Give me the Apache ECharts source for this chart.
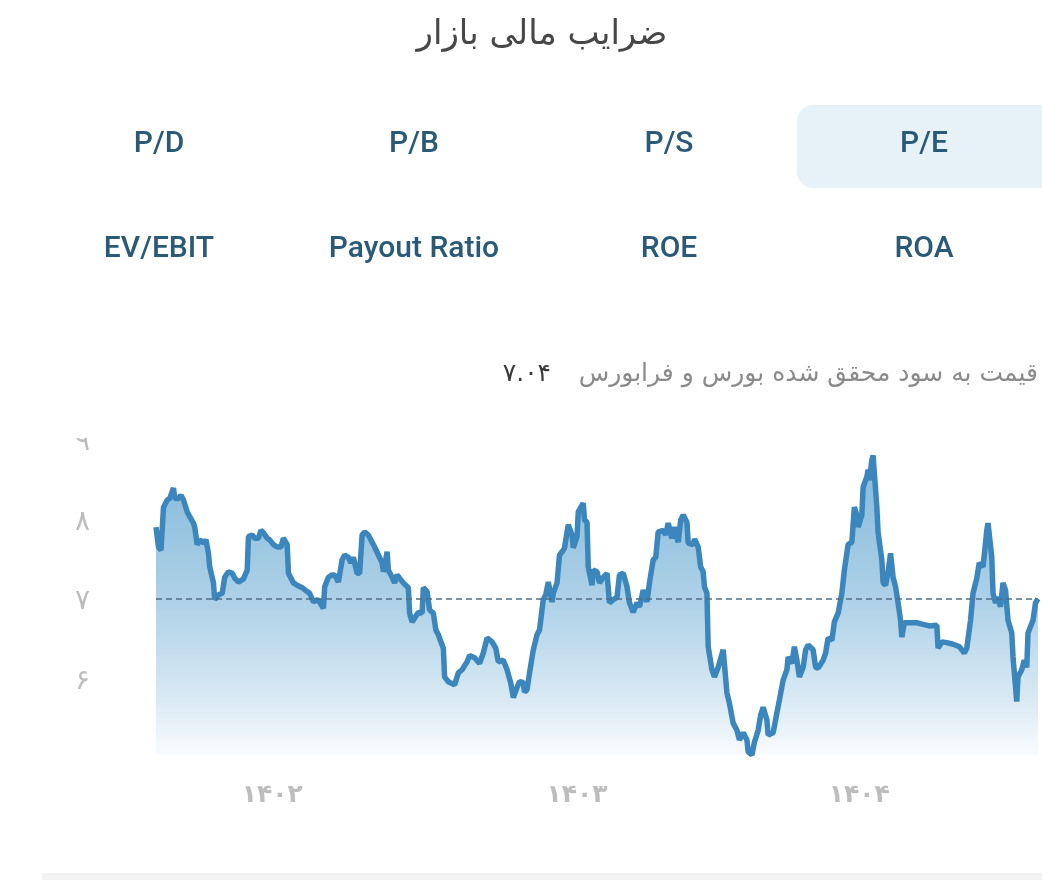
<!DOCTYPE html>
<html>
<head>
<meta charset="utf-8">
<script src="https://cdn.jsdelivr.net/npm/echarts@6/dist/echarts.min.js"></script>
<style>
html,body{margin:0;padding:0;background:#fff;}
#chart{width:1042px;height:887px;}
</style>
</head>
<body>
<div id="chart"></div>
<script>
// ---- data ----
var days = [0,2,4,6,9,11,14,15,18,20,22,25,27,30,31,33,35,38,40,42,43,46,47,50,53,55,58,61,63,66,70,73,74,77,79,82,84,86,89,91,94,97,100,102,105,106,110,113,117,121,123,126,129,131,134,135,138,141,143,146,149,151,154,156,158,161,163,165,167,170,173,175,178,181,182,183,185,186,189,191,193,195,198,199,202,203,205,207,210,213,214,217,219,222,224,226,230,231,234,235,239,242,245,249,251,255,259,262,265,269,272,274,278,281,284,286,289,291,294,295,297,299,302,305,307,310,312,314,317,318,321,323,326,327,330,333,334,337,338,342,343,345,346,349,350,353,355,358,361,363,366,369,371,374,377,379,382,385,387,390,393,395,398,400,402,406,408,410,413,415,418,420,422,425,426,430,431,434,436,438,439,441,442,445,447,450,454,457,459,462,465,467,470,473,474,477,479,482,484,486,489,490,494,497,499,502,505,506,509,511,513,515,518,520,522,526,528,530,534,536,538,541,543,546,549,551,554,557,559,561,562,565,566,569,570,571,573,574,575,577,578,581,582,584,586,588,590,592,594,596,597,599,603,609,614,619,625,626,629,633,638,643,647,649,652,654,657,659,662,663,665,666,669,670,672,674,676,678,680,682,685,686,689,690,693,695,697,698,702,704,706];
var peValues = [7.94,7.69,7.65,8.19,8.28,8.30,8.43,8.30,8.30,8.34,8.28,8.13,8.07,7.99,7.94,7.72,7.78,7.74,7.78,7.61,7.44,7.24,7.03,7.09,7.11,7.31,7.38,7.36,7.30,7.25,7.29,7.40,7.82,7.84,7.80,7.80,7.90,7.87,7.80,7.78,7.72,7.69,7.69,7.80,7.72,7.36,7.24,7.21,7.18,7.13,7.11,7.00,7.03,7.00,6.92,7.19,7.31,7.34,7.34,7.25,7.53,7.59,7.56,7.49,7.56,7.36,7.36,7.84,7.88,7.84,7.75,7.69,7.59,7.49,7.38,7.44,7.63,7.40,7.31,7.24,7.34,7.30,7.24,7.25,7.18,6.86,6.75,6.80,6.87,6.86,7.18,7.13,6.90,6.86,6.65,6.59,6.42,6.06,6.00,6.00,5.96,6.11,6.15,6.25,6.33,6.30,6.23,6.36,6.55,6.50,6.42,6.25,6.27,6.15,5.98,5.80,5.93,6.00,5.99,5.87,5.90,6.11,6.40,6.59,6.65,7.03,7.09,7.25,7.00,7.11,7.24,7.59,7.65,7.68,7.97,7.84,7.68,7.82,8.13,8.24,8.03,8.00,7.44,7.21,7.40,7.38,7.24,7.31,7.36,6.99,7.03,7.06,7.34,7.36,7.19,6.99,6.87,6.99,6.94,7.15,7.00,7.24,7.53,7.56,7.88,7.90,7.84,7.99,7.80,7.94,7.75,8.03,8.09,8.00,7.74,7.72,7.79,7.69,7.44,7.38,7.19,7.11,6.44,6.15,6.06,6.18,6.40,5.86,5.73,5.48,5.39,5.27,5.36,5.27,5.12,5.08,5.24,5.39,5.58,5.68,5.52,5.33,5.36,5.61,5.77,6.02,6.15,6.31,6.23,6.44,6.27,6.06,6.18,6.40,6.46,6.40,6.18,6.17,6.27,6.36,6.55,6.52,6.75,6.86,7.11,7.40,7.72,7.75,8.19,8.09,7.94,8.09,8.44,8.57,8.66,8.53,8.78,8.84,8.62,8.19,7.87,7.53,7.24,7.21,7.38,7.61,7.31,7.19,6.99,6.77,6.56,6.74,6.74,6.74,6.72,6.70,6.71,6.42,6.50,6.49,6.47,6.44,6.36,6.42,6.77,7.11,7.30,7.49,7.44,7.59,7.90,7.99,7.56,7.11,6.99,7.06,6.94,7.24,7.15,6.77,6.61,6.31,5.75,6.06,6.15,6.27,6.18,6.61,6.77,6.99,7.04];
var currentValue = 7.04;
var xLabelDays = [93, 337, 563];
var xLabels = ['۱۴۰۲', '۱۴۰۳', '۱۴۰۴'];
var yTickValues = [6, 7, 8, 9];
var yTickLabels = ['۶', '۷', '۸', '۹'];
var tabsRow1 = ['P/D', 'P/B', 'P/S', 'P/E'];
var tabsRow2 = ['EV/EBIT', 'Payout Ratio', 'ROE', 'ROA'];
var chartTitle = 'ضرایب مالی بازار';
var subTitle = 'قیمت به سود محقق شده بورس و فرابورس';
var currentLabel = '۷.۰۴';

var seriesData = days.map(function (d, i) { return [d, peValues[i]]; });

var chart = echarts.init(document.getElementById('chart'), null, {renderer: 'canvas'});

var tabCentersX = [159, 414, 669, 924];
var graphics = [
  {type: 'rect', shape: {x: 797, y: 105, width: 270, height: 83, r: 16}, style: {fill: '#e7f2f8'}, z: 1},
  {type: 'text', x: 542, y: 35, style: {text: chartTitle, fontSize: 34, fontFamily: 'DejaVu Sans', fill: '#474747', align: 'center', verticalAlign: 'middle'}, z: 5},
  {type: 'text', x: 1038, y: 374, style: {text: subTitle, fontSize: 25, fontFamily: 'DejaVu Sans', fill: '#8a8a8a', align: 'right', verticalAlign: 'middle'}, z: 5},
  {type: 'text', x: 551, y: 374, style: {text: currentLabel, fontSize: 25, fontWeight: 'normal', fontFamily: 'DejaVu Sans', fill: '#3a3a3a', align: 'right', verticalAlign: 'middle'}, z: 5},
  {type: 'rect', shape: {x: 42, y: 873, width: 1000, height: 7}, style: {fill: '#f3f3f3'}, z: 1},
  {type: 'rect', shape: {x: 55, y: 414, width: 50, height: 24}, style: {fill: '#ffffff'}, z: 100}
];
tabsRow1.forEach(function (t, i) {
  graphics.push({type: 'text', x: tabCentersX[i], y: 144, style: {text: t, fontSize: 30, fontWeight: 500, fontFamily: 'Roboto', fill: '#2b5a77', align: 'center', verticalAlign: 'middle'}, z: 5});
});
tabsRow2.forEach(function (t, i) {
  graphics.push({type: 'text', x: tabCentersX[i], y: 249, style: {text: t, fontSize: 30, fontWeight: 500, fontFamily: 'Roboto', fill: '#2b5a77', align: 'center', verticalAlign: 'middle'}, z: 5});
});

var option = {
  animation: false,
  backgroundColor: '#ffffff',
  grid: {left: 156, right: 4, top: 442.6, bottom: 125.6, containLabel: false},
  xAxis: {
    type: 'value',
    min: 0,
    max: 706,
    axisLine: {show: false},
    axisTick: {show: false},
    splitLine: {show: false},
    axisLabel: {
      customValues: xLabelDays,
      margin: 22,
      fontSize: 25,
      fontWeight: 'bold',
      fontFamily: 'DejaVu Sans',
      color: '#bdbdbd',
      formatter: function (v) {
        var k = xLabelDays.indexOf(v);
        return k >= 0 ? xLabels[k] : '';
      }
    }
  },
  yAxis: {
    type: 'value',
    min: 5,
    max: 9,
    interval: 1,
    axisLine: {show: false},
    axisTick: {show: false},
    splitLine: {show: false},
    axisLabel: {
      margin: 66,
      fontSize: 28,
      fontFamily: 'DejaVu Sans',
      color: '#bdbdbd',
      formatter: function (v) {
        var k = yTickValues.indexOf(v);
        return k >= 0 ? yTickLabels[k] : '';
      }
    }
  },
  series: [{
    type: 'line',
    data: seriesData,
    symbol: 'none',
    smooth: false,
    lineStyle: {color: '#3b86bd', width: 5.5},
    areaStyle: {
      origin: 5.08,
      opacity: 1,
      color: new echarts.graphic.LinearGradient(0, 0, 0, 1, [
        {offset: 0, color: 'rgba(70,150,200,0.66)'},
        {offset: 0.15, color: 'rgba(70,150,200,0.6)'},
        {offset: 0.5, color: 'rgba(70,150,200,0.43)'},
        {offset: 0.82, color: 'rgba(70,150,200,0.2)'},
        {offset: 1, color: 'rgba(70,150,200,0.03)'}
      ])
    },
    markLine: {
      silent: true,
      symbol: 'none',
      label: {show: false},
      lineStyle: {type: [6, 4], color: '#4d7088', width: 1.5},
      data: [{yAxis: currentValue}]
    }
  }],
  graphic: graphics
};
chart.setOption(option);
</script>
</body>
</html>
